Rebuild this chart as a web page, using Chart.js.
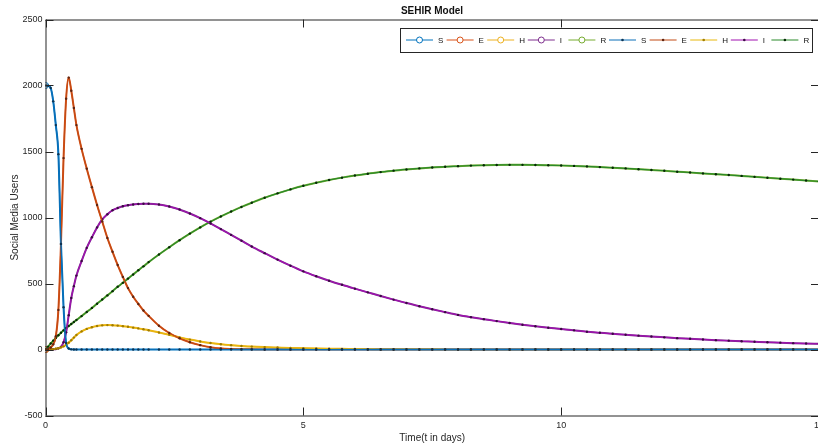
<!DOCTYPE html>
<html>
<head>
<meta charset="utf-8">
<script src="https://cdn.jsdelivr.net/npm/chart.js@4.4.0/dist/chart.umd.min.js"></script>
<style>
  html, body { margin: 0; padding: 0; background: #fff; }
  #wrap { width: 818px; height: 448px; overflow: hidden; }
</style>
</head>
<body>
<div id="wrap"><canvas id="sehirChart" width="840" height="448"></canvas></div>
<script>
// SEHIR model, values
const tDays = [
  0, 0.05, 0.1, 0.15, 0.2, 0.25, 0.3, 0.35, 0.4, 0.45, 0.5, 0.55, 0.6,
  0.7, 0.8, 0.9, 1.0, 1.1, 1.2, 1.3, 1.4, 1.5, 1.6, 1.7, 1.8, 1.9, 2.0,
  2.2, 2.4, 2.6, 2.8, 3.0, 3.2, 3.4, 3.6, 3.8,
  4.0, 4.25, 4.5, 4.75, 5.0, 5.25, 5.5, 5.75, 6.0, 6.25, 6.5, 6.75, 7.0, 7.25, 7.5, 7.75,
  8.0, 8.25, 8.5, 8.75, 9.0, 9.25, 9.5, 9.75, 10.0, 10.25, 10.5, 10.75, 11.0, 11.25, 11.5, 11.75,
  12.0, 12.25, 12.5, 12.75, 13.0, 13.25, 13.5, 13.75, 14.0, 14.25, 14.5, 14.75, 15.0
];

const sUsers = [
  2000, 1998, 1982, 1880, 1700, 1480, 800, 320, 50, 8, 1, 0, 0,
  0, 0, 0, 0, 0, 0, 0, 0, 0, 0, 0, 0, 0, 0,
  0, 0, 0, 0, 0, 0, 0, 0, 0,
  0, 0, 0, 0, 0, 0, 0, 0, 0, 0, 0, 0, 0, 0, 0, 0,
  0, 0, 0, 0, 0, 0, 0, 0, 0, 0, 0, 0, 0, 0, 0, 0,
  0, 0, 0, 0, 0, 0, 0, 0, 0, 0, 0, 0, 0
];

const eUsers = [
  0, 3, 15, 40, 100, 300, 800, 1450, 1900, 2060, 1960, 1830, 1700,
  1520, 1370, 1230, 1095, 970, 845, 740, 640, 550, 465, 400, 345, 295, 255,
  180, 125, 85, 55, 33, 17, 8, 4, 2,
  1, 0, 0, 0, 0, 0, 0, 0, 0, 0, 0, 0, 0, 0, 0, 0,
  0, 0, 0, 0, 0, 0, 0, 0, 0, 0, 0, 0, 0, 0, 0, 0,
  0, 0, 0, 0, 0, 0, 0, 0, 0, 0, 0, 0, 0
];

const hUsers = [
  0, 0, 1, 3, 6, 10, 16, 24, 36, 52, 70, 90, 110,
  137, 156, 169, 178, 183, 185, 184, 181, 177, 172, 166, 160, 153, 146,
  129, 111, 92, 75, 61, 49, 40, 33, 27,
  22, 18, 15, 12, 10, 8, 6, 5, 4, 3, 2, 2, 1, 1, 1, 0,
  0, 0, 0, 0, 0, 0, 0, 0, 0, 0, 0, 0, 0, 0, 0, 0,
  0, 0, 0, 0, 0, 0, 0, 0, 0, 0, 0, 0, 0
];

const iUsers = [
  0, 0, 1, 2, 4, 9, 20, 55, 130, 260, 390, 480, 560,
  670, 770, 850, 925, 985, 1025, 1055, 1072, 1085, 1093, 1099, 1102, 1104, 1104,
  1098, 1083, 1061, 1030, 995, 955, 912, 868, 824,
  780, 730, 681, 635, 592, 555, 521, 490, 461, 433, 405, 378, 352, 328, 305, 283,
  262, 245, 230, 215, 201, 188, 176, 165, 155, 145, 135, 127, 119, 112, 105, 98,
  92, 86, 81, 76, 71, 67, 63, 59, 55, 52, 48, 45, 43
];

const rUsers = [
  0, 22, 45, 67, 88, 108, 127, 145, 162, 178, 193, 208, 223,
  253, 284, 315, 347, 379, 410, 442, 475, 505, 537, 568, 600, 630, 662,
  720, 775, 828, 878, 925, 968, 1008, 1045, 1080,
  1112, 1150, 1183, 1213, 1240, 1263, 1284, 1302, 1318, 1332, 1344, 1355, 1364, 1372, 1379, 1385,
  1389, 1393, 1396, 1398, 1399, 1399, 1398, 1396, 1394, 1391, 1387, 1382, 1377, 1372, 1366, 1360,
  1354, 1347, 1341, 1334, 1328, 1322, 1315, 1308, 1301, 1294, 1287, 1280, 1273
];

const seriesNames = ['S', 'E', 'H', 'I', 'R'];
const seriesValues = [sUsers, eUsers, hUsers, iUsers, rUsers];
const xTicks = [0, 5, 10, 15];
const yTicks = [-500, 0, 500, 1000, 1500, 2000, 2500];

// first plot: thick lines with open circles, second plot: thin lines with dots
const circleColors = ['#0072BD', '#D95319', '#EDB120', '#7E2F8E', '#77AC30'];
const dotLineColors = ['#0a6fb8', '#c24a14', '#e8b80c', '#a010b0', '#2a8a2a'];
const dotColors = ['#0b3454', '#5e2410', '#a07c00', '#3c0a44', '#062a06'];

const FONT = "'Liberation Sans', Arial, Helvetica, sans-serif";
const INK = '#262626';

function toPoints(vals) {
  return tDays.map((t, k) => ({ x: t, y: vals[k] }));
}

const datasets = [];
seriesNames.forEach((name, i) => {
  datasets.push({
    label: name,
    data: toPoints(seriesValues[i]),
    borderColor: circleColors[i],
    borderWidth: 2,
    cubicInterpolationMode: 'monotone',
    pointStyle: 'circle',
    pointRadius: ctx => (ctx.dataIndex === 0 ? 3 : 0),
    pointBackgroundColor: 'rgba(0,0,0,0)',
    pointBorderColor: circleColors[i],
    pointBorderWidth: 1,
    order: 2,
    legendMarker: 'circle'
  });
});
seriesNames.forEach((name, i) => {
  datasets.push({
    label: name,
    data: toPoints(seriesValues[i]),
    borderColor: dotLineColors[i],
    borderWidth: 1.2,
    cubicInterpolationMode: 'monotone',
    pointStyle: 'circle',
    pointRadius: 1.2,
    pointBackgroundColor: dotColors[i],
    pointBorderWidth: 0,
    order: 1,
    legendMarker: 'dot'
  });
});

// MATLAB style box, inward ticks, title and boxed legend
const matlabFrame = {
  id: 'matlabFrame',
  afterDraw(chart) {
    const { ctx, chartArea: a, scales } = chart;
    const tickLen = 8;
    ctx.save();
    ctx.strokeStyle = INK;
    ctx.lineWidth = 1;
    ctx.strokeRect(a.left + 0.5, a.top + 0.5, a.right - a.left, a.bottom - a.top);
    ctx.beginPath();
    xTicks.forEach(v => {
      const px = Math.round(scales.x.getPixelForValue(v)) + 0.5;
      ctx.moveTo(px, a.bottom); ctx.lineTo(px, a.bottom - tickLen);
      ctx.moveTo(px, a.top); ctx.lineTo(px, a.top + tickLen);
    });
    yTicks.forEach(v => {
      const py = Math.round(scales.y.getPixelForValue(v)) + 0.5;
      ctx.moveTo(a.left, py); ctx.lineTo(a.left + tickLen, py);
      ctx.moveTo(a.right, py); ctx.lineTo(a.right - tickLen, py);
    });
    ctx.stroke();

    // title
    ctx.fillStyle = '#111';
    ctx.font = 'bold 10px ' + FONT;
    ctx.textAlign = 'center';
    ctx.textBaseline = 'middle';
    ctx.fillText('SEHIR Model', 432, 11);

    // legend
    const box = { x: 400, y: 28, w: 412, h: 24 };
    ctx.fillStyle = '#fff';
    ctx.fillRect(box.x, box.y, box.w, box.h);
    ctx.strokeStyle = INK;
    ctx.strokeRect(box.x + 0.5, box.y + 0.5, box.w, box.h);
    const cy = box.y + box.h / 2;
    ctx.font = '8px ' + FONT;
    ctx.textAlign = 'left';
    chart.data.datasets.forEach((ds, k) => {
      const x0 = 406 + k * 40.6;
      ctx.strokeStyle = ds.borderColor;
      ctx.lineWidth = 1;
      ctx.beginPath();
      ctx.moveTo(x0, cy); ctx.lineTo(x0 + 27, cy);
      ctx.stroke();
      ctx.beginPath();
      if (ds.legendMarker === 'circle') {
        ctx.fillStyle = '#fff';
        ctx.arc(x0 + 13.5, cy, 3, 0, Math.PI * 2);
        ctx.fill();
        ctx.stroke();
      } else {
        ctx.fillStyle = ds.pointBackgroundColor;
        ctx.arc(x0 + 13.5, cy, 1.3, 0, Math.PI * 2);
        ctx.fill();
      }
      ctx.fillStyle = '#111';
      ctx.fillText(ds.label, x0 + 32, cy + 0.5);
    });
    ctx.restore();
  }
};

new Chart(document.getElementById('sehirChart'), {
  type: 'line',
  data: { datasets },
  plugins: [matlabFrame],
  options: {
    responsive: false,
    animation: false,
    events: [],
    layout: { padding: { left: 0, right: 21, top: 19.5, bottom: 0 } },
    plugins: {
      legend: { display: false },
      title: { display: false },
      tooltip: { enabled: false }
    },
    scales: {
      x: {
        type: 'linear',
        min: 0,
        max: 15,
        afterFit: s => { s.height = 32.5; },
        afterBuildTicks: s => { s.ticks = xTicks.map(v => ({ value: v })); },
        grid: { display: false, drawTicks: false },
        border: { display: false },
        ticks: { padding: 5, color: INK, font: { family: FONT, size: 9 }, maxRotation: 0, callback: v => String(v) },
        title: { display: true, text: 'Time(t in days)', color: INK, font: { family: FONT, size: 10 }, padding: { top: 0, bottom: 4 } }
      },
      y: {
        min: -500,
        max: 2500,
        afterFit: s => { s.width = 45.5; },
        afterBuildTicks: s => { s.ticks = yTicks.map(v => ({ value: v })); },
        grid: { display: false, drawTicks: false },
        border: { display: false },
        ticks: { padding: 3, color: INK, font: { family: FONT, size: 9 }, callback: v => String(v) },
        title: { display: true, text: 'Social Media Users', color: INK, font: { family: FONT, size: 10 }, padding: { top: 9, bottom: 0 } }
      }
    }
  }
});
</script>
</body>
</html>
